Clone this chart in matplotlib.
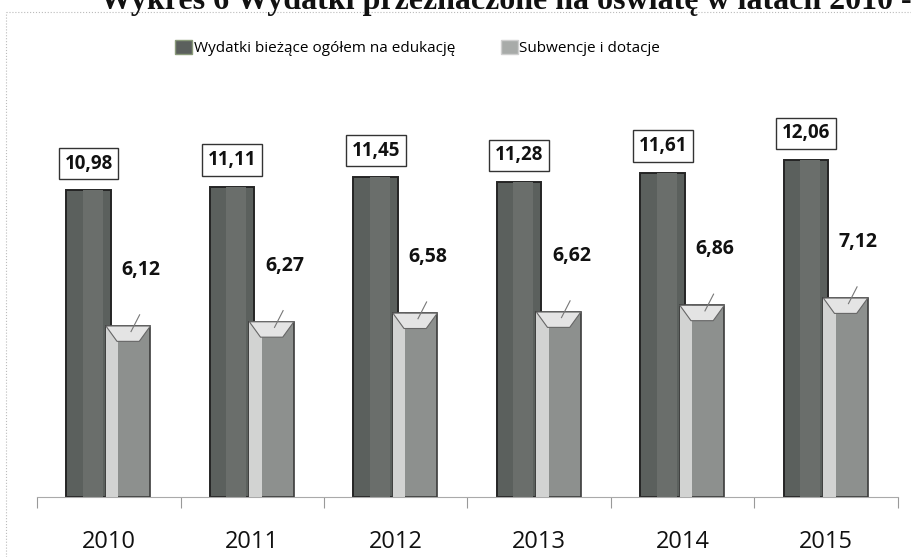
import matplotlib.pyplot as plt
import numpy as np
from matplotlib.patches import Patch, Polygon
from matplotlib.lines import Line2D

lata = ['2010', '2011', '2012', '2013', '2014', '2015']
wydatki = [10.98, 11.11, 11.45, 11.28, 11.61, 12.06]
subwencje = [6.12, 6.27, 6.58, 6.62, 6.86, 7.12]
etykiety_wyd = ['10,98', '11,11', '11,45', '11,28', '11,61', '12,06']
etykiety_sub = ['6,12', '6,27', '6,58', '6,62', '6,86', '7,12']

plt.rcParams['font.family'] = ['Open Sans', 'DejaVu Sans']

fig = plt.figure(figsize=(9.12, 5.57), dpi=100)
ax = fig.add_axes([0.0406, 0.1077, 0.944, 0.74])

x = np.arange(len(lata))
w = 0.31
xd = x - 0.14
xs = x + 0.135

# ciemne slupki - wydatki biezace
ax.bar(xd, wydatki, w, color='#5b605d', edgecolor='#252525', linewidth=1.4, zorder=2)
ax.bar(xd + 0.03, wydatki, w * 0.45, color='#6a6e6b', linewidth=0, zorder=3)

# jasne slupki - subwencje, z "fazowaniem" u gory
ax.bar(xs, subwencje, w, color='#8d908e', edgecolor='#3c3c3c', linewidth=1.2, zorder=4)
ax.bar(xs - w / 2 + w * 0.14, subwencje, w * 0.28, color='#d2d3d2', linewidth=0, zorder=5)
for i in range(len(lata)):
    v = subwencje[i]
    l, r = xs[i] - w / 2, xs[i] + w / 2
    d = w * 0.25
    cap = Polygon([[l, v], [r, v], [r - d, v - 0.55], [l + d, v - 0.55]],
                  closed=True, facecolor='#e4e4e4', edgecolor='#666666', linewidth=0.8, zorder=6)
    ax.add_patch(cap)
    ax.plot([xs[i] + 0.02, xs[i] + 0.08], [v - 0.2, v + 0.4], color='#777777', lw=0.8, zorder=7)

# etykiety wartosci
for i in range(len(lata)):
    ax.text(xd[i], wydatki[i] + 0.95, etykiety_wyd[i], ha='center', va='center',
            fontsize=13.5, fontweight='bold', color='#111111',
            bbox=dict(boxstyle='square,pad=0.3', facecolor='white', edgecolor='#333333', linewidth=1.0),
            zorder=8)
    ax.text(xs[i] + 0.09, subwencje[i] + 2.0, etykiety_sub[i], ha='center', va='center',
            fontsize=14, fontweight='bold', color='#111111', zorder=8)

ax.set_xlim(-0.5, len(lata) - 0.5)
ax.set_ylim(0, 14.75)
ax.set_yticks([])
ax.set_xticks(x)
ax.set_xticklabels(lata, fontsize=17, color='#111111')
ax.set_xticks(np.arange(len(lata) + 1) - 0.5, minor=True)
ax.tick_params(axis='x', which='major', length=0, pad=24)
ax.tick_params(axis='x', which='minor', length=8, color='#999999', width=0.8)
for s in ['top', 'left', 'right']:
    ax.spines[s].set_visible(False)
ax.spines['bottom'].set_color('#aaaaaa')
ax.spines['bottom'].set_linewidth(0.8)

# legenda
uchwyty = [Patch(facecolor='#5b605d', edgecolor='#8a9a7a'),
           Patch(facecolor='#a8aba9', edgecolor='#cfcfcf')]
fig.legend(uchwyty, ['Wydatki bieżące ogółem na edukację', 'Subwencje i dotacje'],
           loc='center', bbox_to_anchor=(0.458, 0.914), ncol=2, frameon=False,
           fontsize=11, handlelength=1.1, handleheight=1.1, handletextpad=0.1,
           columnspacing=3.0)

# ramka wykresu (przerywana)
fig.add_artist(Line2D([6 / 912, 6 / 912], [0, 1 - 12 / 557], color='#bbbbbb', lw=0.8, ls=':'))
fig.add_artist(Line2D([6 / 912, 1], [1 - 12 / 557, 1 - 12 / 557], color='#bbbbbb', lw=0.8, ls=':'))

# tytul (uciety u gory, jak na skanie)
fig.text(100 / 912, 1 - 9 / 557, 'Wykres 6 Wydatki przeznaczone na oświatę w latach 2010 - 2015',
         fontsize=23, fontweight='bold', family='Liberation Serif', va='baseline', ha='left',
         color='#111111')

fig.savefig('out.png', dpi=100)
